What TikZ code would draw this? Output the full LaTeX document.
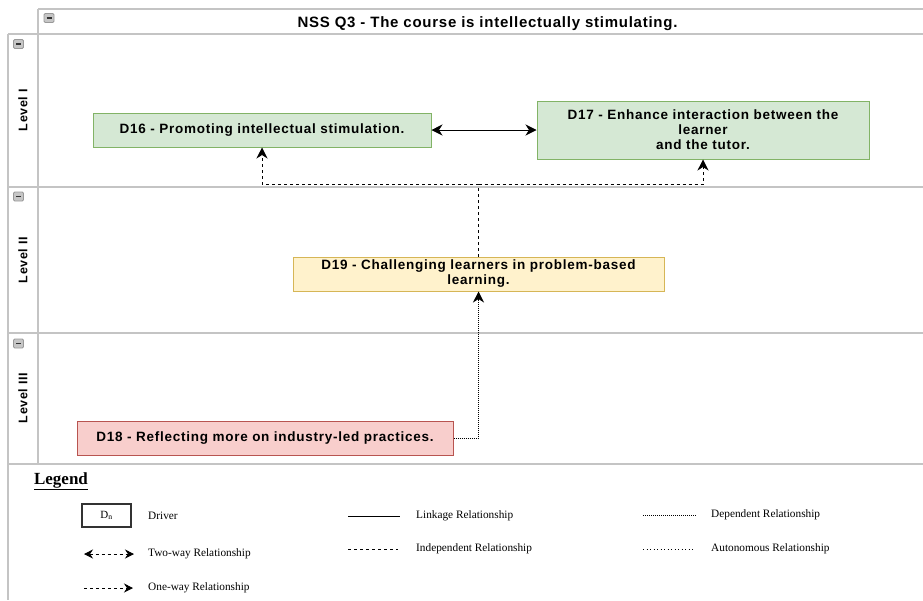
\documentclass[tikz,border=0pt]{standalone}
\usepackage{fontspec}
\setmainfont{Liberation Serif}
\newfontfamily\arialfont[LetterSpace=5.5]{Liberation Sans}
\newfontfamily\titlefont[LetterSpace=5]{Liberation Sans}
\usetikzlibrary{arrows.meta,calc}
\definecolor{gfill}{HTML}{D5E8D4}
\definecolor{gline}{HTML}{82B366}
\definecolor{yfill}{HTML}{FFF2CC}
\definecolor{yline}{HTML}{D6B656}
\definecolor{rfill}{HTML}{F8CECC}
\definecolor{rline}{HTML}{B85450}
\definecolor{laneline}{HTML}{C4C4C4}
\tikzset{
  ahead/.tip={Stealth[length=11pt,width=11pt,inset=3.5pt]},
  shead/.tip={Stealth[length=9pt,width=9pt,inset=3pt]}
}
\begin{document}
\begin{tikzpicture}[x=1pt,y=-1pt,
  lane/.style={draw=laneline, line width=1.6pt},
  driver/.style={draw, line width=1pt, align=center, inner sep=0pt,
    font=\arialfont\bfseries\fontsize{13.5}{15}\selectfont},
  greenbox/.style={driver, fill=gfill, draw=gline},
  yellowbox/.style={driver, fill=yfill, draw=yline},
  redbox/.style={driver, fill=rfill, draw=rline},
  lanelabel/.style={rotate=90, font=\titlefont\bfseries\fontsize{12.5}{14}\selectfont},
  minus/.style={draw=gray!80, fill=gray!45, rounded corners=1.2pt, minimum width=10pt, minimum height=9pt, inner sep=0pt, line width=0.8pt,
    path picture={\draw[line width=1.2pt, black!80] ($(path picture bounding box.west)+(2.5,0)$) -- ($(path picture bounding box.east)+(-2.5,0)$);}},
  link/.style={line width=0.8pt, black},
  indep/.style={line width=0.8pt, black, dash pattern=on 3pt off 3pt},
  depend/.style={line width=0.8pt, black, dash pattern=on 1pt off 1pt},
  auton/.style={line width=0.8pt, black, dash pattern=on 1pt off 2.5pt},
  legtext/.style={anchor=west, inner sep=0pt, font=\fontsize{11.3}{13}\selectfont}
]
\useasboundingbox (0,0) rectangle (923,600);
% frame
\draw[lane] (38,9) -- (923,9);
\draw[lane] (38,9) -- (38,464);
\draw[lane] (8,34) -- (923,34);
\draw[lane] (8,34) -- (8,600);
\draw[lane] (8,187) -- (923,187);
\draw[lane] (8,333) -- (923,333);
\draw[lane] (8,464) -- (923,464);
% collapse icons
\node[minus] (m0) at (49,18) {};
\node[minus] (m1) at (18.5,44) {};
\node[minus] (m2) at (18.5,196.5) {};
\node[minus] (m3) at (18.5,343.5) {};
% title and lane labels
\node[font=\titlefont\bfseries\fontsize{15}{17}\selectfont] (title) at (487.5,23.5) {NSS Q3 - The course is intellectually stimulating.};
\node[lanelabel] (l1) at (23,110) {Level I};
\node[lanelabel] (l2) at (23,260) {Level II};
\node[lanelabel] (l3) at (23,398) {Level III};
% drivers
\node[greenbox, minimum width=338pt, minimum height=34pt] (d16) at (262,130) {D16 - Promoting intellectual stimulation.};
\node[greenbox, minimum width=332pt, minimum height=58pt] (d17) at (703,130) {D17 - Enhance interaction between the\\learner\\and the tutor.};
\node[yellowbox, minimum width=371pt, minimum height=34pt] (d19) at (478.5,274) {D19 - Challenging learners in problem-based\\learning.};
\node[redbox, minimum width=376pt, minimum height=34pt] (d18) at (265,438) {D18 - Reflecting more on industry-led practices.};
% connectors
\draw[link, ahead-ahead] (d16.east) -- (d17.west);
\coordinate (j) at (478.5,184);
\draw[indep] (d19.north) -- (j);
\draw[indep, -ahead] (j) -| (d16.south);
\draw[indep, -ahead] (j) -| (d17.south);
\draw[depend, -ahead] (d18.east) -| (d19.south);
% legend
\node[font=\fontsize{17}{19}\selectfont\bfseries, inner sep=0pt] (leg) at (61,481) {\underline{Legend}};
\node[draw=black!80, line width=1.2pt, minimum width=49pt, minimum height=23pt, inner sep=0pt, font=\fontsize{11}{12}\selectfont] (dn) at (106.5,515.5) {D\textsubscript{n}};
\node[legtext] (tdriver) at (148,516) {Driver};
\coordinate (a1) at (84,554); \coordinate (a2) at (134,554);
\draw[indep, shead-shead] (a1) -- (a2);
\node[legtext] (ttwo) at (148,554) {Two-way Relationship};
\coordinate (b1) at (84,588); \coordinate (b2) at (133,588);
\draw[indep, -shead] (b1) -- (b2);
\node[legtext] (tone) at (148,588) {One-way Relationship};
\coordinate (c1) at (348,516); \coordinate (c2) at (400,516);
\draw[link] (c1) -- (c2);
\node[legtext] (tlink) at (416,516) {Linkage Relationship};
\coordinate (e1) at (348,549); \coordinate (e2) at (398,549);
\draw[indep] (e1) -- (e2);
\node[legtext] (tind) at (416,549) {Independent Relationship};
\coordinate (f1) at (643,515); \coordinate (f2) at (696,515);
\draw[depend] (f1) -- (f2);
\node[legtext] (tdep) at (711,515) {Dependent Relationship};
\coordinate (g1) at (643,549); \coordinate (g2) at (695,549);
\draw[auton] (g1) -- (g2);
\node[legtext] (taut) at (711,549) {Autonomous Relationship};
\end{tikzpicture}
\end{document}
